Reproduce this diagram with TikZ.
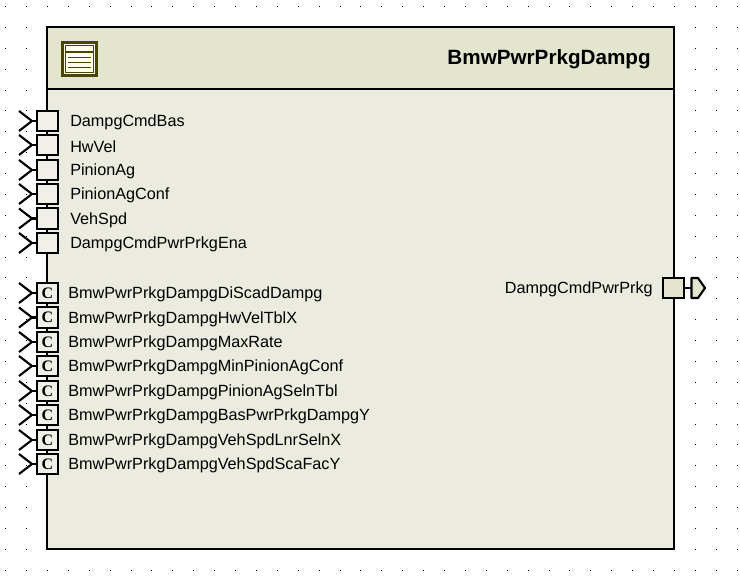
\documentclass[tikz,border=0pt]{standalone}
\usepackage{fontspec}
\setmainfont{Liberation Sans}
\newfontfamily\constfont{Liberation Serif}
\definecolor{headfill}{HTML}{E3E5CF}
\definecolor{bodyfill}{HTML}{EBEBDF}
\definecolor{portfill}{HTML}{F0F0E8}
\definecolor{iconline}{HTML}{4A4500}
\definecolor{iconfill}{HTML}{FFFDF0}
\tikzset{
  portbox/.style={draw=black,line width=1.7pt,fill=portfill,minimum size=15.3pt,inner sep=0pt,font=\constfont\bfseries\fontsize{12}{12}\selectfont},
  wire/.style={line width=1.6pt,line join=miter},
  lbl/.style={anchor=west,inner sep=0pt,font=\fontsize{12.16}{14}\selectfont},
}
\begin{document}
\begin{tikzpicture}[x=0.75pt,y=-0.75pt]
        \path[fill=white,use as bounding box] (0,0) rectangle (740,588);
        % Grid
        \foreach \i in {0,...,35} {
          \foreach \j in {0,...,27} {
            \fill ({round(5.2+20.9*\i)},{round(6+20.88*\j)}) rectangle ++(1,1);
          }
        }
        % Block
        \draw[line width=1.9pt,fill=bodyfill] (47,27) rectangle (674,549);
        \draw[line width=1.9pt,fill=headfill] (47,27) rectangle (674,89);
        \node[anchor=east,inner sep=0pt,font=\bfseries\fontsize{15.5}{18}\selectfont] (title) at (651,59.5) {BmwPwrPrkgDampg};
        % Icon
        \draw[iconline,line width=2.2pt,fill=iconfill] (62.5,42.5) rectangle (96.5,75.5);
        \draw[iconline,line width=1.1pt] (65.5,45.5) rectangle (93.5,72.5);
        \draw[iconline,line width=1.1pt] (65.5,52) -- (93.5,52);
        \draw[iconline,line width=1.1pt] (68,57.5) -- (91,57.5);
        \draw[iconline,line width=0.8pt] (68,62.5) -- (91,62.5);
        \draw[iconline,line width=0.8pt] (68,67.5) -- (91,67.5);
        % Input ports
        \foreach \y/\name [count=\i] in {121/DampgCmdBas,145/HwVel,170/PinionAg,194/PinionAgConf,218.5/VehSpd,243/DampgCmdPwrPrkgEna} {
          \coordinate (stem\i) at (32,\y);
          \coordinate (armA\i) at (19,\y-10);
          \coordinate (armB\i) at (19,\y+10);
          \draw[wire] (armA\i) -- (stem\i) -- (armB\i);
          \node[portbox] (in\i) at (47.5,\y) {};
          \draw[wire] (in\i) -- (stem\i);
          \node[lbl] (lbl\i) at (70,\y+1.5) {\name};
        }
        % Constant ports
        \foreach \y/\name [count=\i] in {293/DiScadDampg,317.5/HwVelTblX,342/MaxRate,366/MinPinionAgConf,391/PinionAgSelnTbl,415/BasPwrPrkgDampgY,440/VehSpdLnrSelnX,464/VehSpdScaFacY} {
          \coordinate (cstem\i) at (32,\y);
          \coordinate (carmA\i) at (19,\y-10);
          \coordinate (carmB\i) at (19,\y+10);
          \draw[wire] (carmA\i) -- (cstem\i) -- (carmB\i);
          \node[portbox] (cal\i) at (47.5,\y) {C};
          \draw[wire] (cal\i) -- (cstem\i);
          \node[lbl] (clbl\i) at (68,\y+1.5) {BmwPwrPrkgDampg\name};
        }
        % Output port
        \node[portbox,fill=headfill] (out) at (673.5,288) {};
        \coordinate (flag) at (691.5,288);
        \draw[line width=1.6pt,fill=headfill,line join=round] (691.5,278) -- (698,278) -- (705,288) -- (698,298) -- (691.5,298) -- cycle;
        \draw[wire] (out) -- (flag);
        \node[lbl,anchor=east] (outlbl) at (653,289.5) {DampgCmdPwrPrkg};
\end{tikzpicture}
\end{document}
